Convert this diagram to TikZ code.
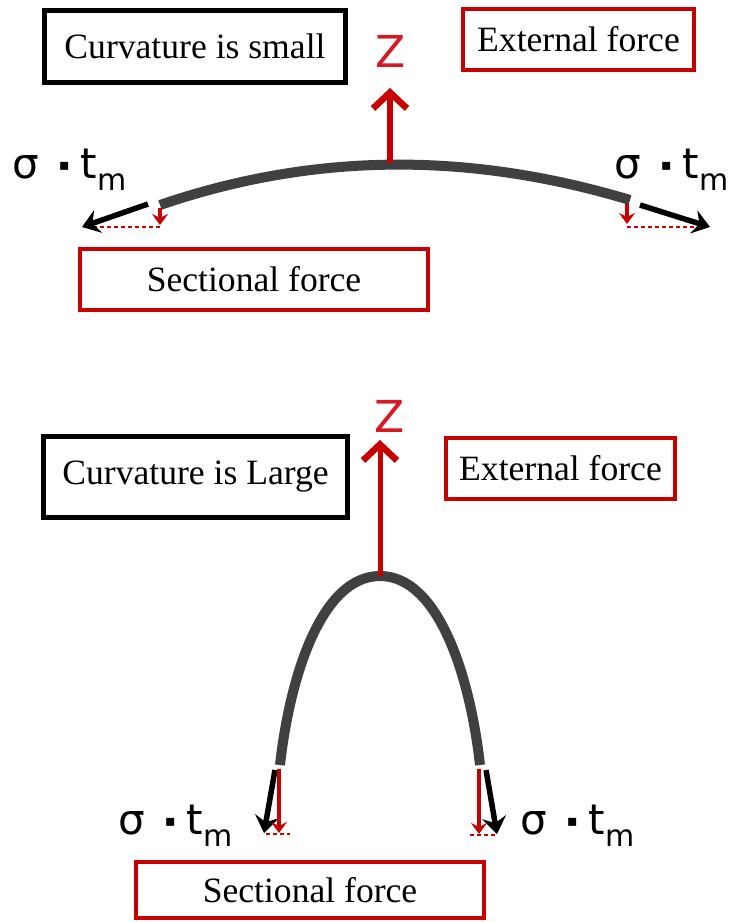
\documentclass[tikz,border=0pt]{standalone}
\usepackage{fontspec}
\setmainfont{Liberation Serif}
\newfontfamily\sigfont{DejaVu Sans}
\usetikzlibrary{arrows.meta}
\definecolor{redc}{RGB}{200,0,0}
\definecolor{zred}{RGB}{215,25,35}
\definecolor{beamgray}{RGB}{64,64,64}
\newcommand{\sigtm}{{\sigfont\fontsize{42}{44}\selectfont σ\hspace{20pt}\raisebox{8pt}{\fontsize{16}{16}\selectfont ▪}\hspace{11pt}t\raisebox{-12pt}{\fontsize{30}{30}\selectfont m}}}
\tikzset{
  blackbox/.style={draw=black,line width=5pt,rectangle,inner sep=0pt,font=\fontsize{35.6}{40}\selectfont},
  redbox/.style={draw=redc,line width=4pt,rectangle,inner sep=0pt,font=\fontsize{35.6}{40}\selectfont},
  beam/.style={draw=beamgray,line width=10pt},
  zarrow/.style={draw=redc,line width=6pt,-{Straight Barb[length=16pt,width=34pt,line width=6.5pt]}},
  blackarrow/.style={draw=black,line width=5.5pt,-{Stealth[length=17pt,width=24pt,inset=6pt]}},
  redarrow/.style={draw=redc,line width=3.5pt,-{Stealth[length=11pt,width=16pt,inset=4pt]}},
  reddash/.style={draw=redc,line width=1.3pt,dash pattern=on 4pt off 3pt},
  zlabel/.style={text=zred,font=\sigfont\fontsize{44}{44}\selectfont,inner sep=0pt},
  siglabel/.style={inner sep=0pt,anchor=base west}
}
\begin{document}
\begin{tikzpicture}[x=1pt,y=-1pt]
\useasboundingbox (0,0) rectangle (742,922);

% ---------- top: curvature small ----------
\node[blackbox,minimum width=301pt,minimum height=72pt] (cs) at (195,46.5) {Curvature is small};
\node[redbox,minimum width=231pt,minimum height=61pt] (ef1) at (578.5,39.5) {External force};
\node[redbox,minimum width=348pt,minimum height=61pt] (sf1) at (254,279.5) {Sectional force};
\node[zlabel] (z1) at (391,51) {Z};

\coordinate (L1) at (160,205);
\coordinate (R1) at (630,200);
\coordinate (P1) at (390,163);
\coordinate (Z1tip) at (390,88);
\draw[beam] (L1) .. controls (315,152) and (470,152) .. (R1);
\draw[zarrow] (P1) -- (Z1tip);

\coordinate (L1b) at (148,204);
\coordinate (L1bt) at (82,227);
\coordinate (L1r) at (160,208);
\coordinate (L1rt) at (160,225);
\coordinate (L1d) at (160,227);
\coordinate (L1de) at (84,227);
\draw[reddash] (L1d) -- (L1de);
\draw[blackarrow] (L1b) -- (L1bt);
\draw[redarrow] (L1r) -- (L1rt);

\coordinate (R1b) at (640,205);
\coordinate (R1bt) at (710,227);
\coordinate (R1r) at (627,204);
\coordinate (R1rt) at (627,224);
\coordinate (R1d) at (627,227);
\coordinate (R1de) at (702,227);
\draw[reddash] (R1d) -- (R1de);
\draw[blackarrow] (R1b) -- (R1bt);
\draw[redarrow] (R1r) -- (R1rt);

\node[siglabel] (s1) at (12,178) {\sigtm};
\node[siglabel] (s2) at (614,178) {\sigtm};

% ---------- bottom: curvature large ----------
\node[blackbox,minimum width=304pt,minimum height=81pt] (cl) at (195.5,477) {Curvature is Large};
\node[redbox,minimum width=229pt,minimum height=61pt] (ef2) at (560.5,468.5) {External force};
\node[redbox,minimum width=348pt,minimum height=56pt] (sf2) at (310,890) {Sectional force};
\node[zlabel] (z2) at (390,416) {Z};

\coordinate (L2) at (280,765);
\coordinate (P2) at (380,576);
\coordinate (R2) at (480,765);
\coordinate (Z2tip) at (380,440);
\draw[beam] (L2) .. controls (290,675) and (322,576) .. (P2) .. controls (438,576) and (470,675) .. (R2);
\draw[zarrow,line width=5pt] (P2) -- (Z2tip);

\coordinate (L2b) at (275,770);
\coordinate (L2bt) at (264,833);
\coordinate (L2r) at (279,769);
\coordinate (L2rt) at (279,833);
\coordinate (L2d) at (266,834);
\coordinate (L2de) at (290,834);
\draw[reddash] (L2d) -- (L2de);
\draw[blackarrow] (L2b) -- (L2bt);
\draw[redarrow] (L2r) -- (L2rt);

\coordinate (R2b) at (486,770);
\coordinate (R2bt) at (497,834);
\coordinate (R2r) at (479,769);
\coordinate (R2rt) at (479,834);
\coordinate (R2d) at (470,835);
\coordinate (R2de) at (496,835);
\draw[reddash] (R2d) -- (R2de);
\draw[blackarrow] (R2b) -- (R2bt);
\draw[redarrow] (R2r) -- (R2rt);

\node[siglabel] (s3) at (118,834) {\sigtm};
\node[siglabel] (s4) at (520,834) {\sigtm};
\end{tikzpicture}
\end{document}
